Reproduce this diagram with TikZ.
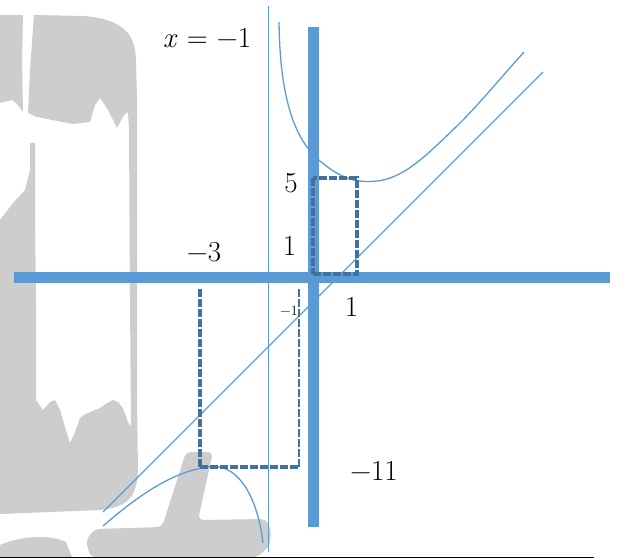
\documentclass[tikz,border=0pt]{standalone}
\definecolor{axblue}{RGB}{91,155,213}
\definecolor{dashblue}{RGB}{65,113,156}
\definecolor{smudge}{RGB}{205,205,205}

\begin{document}
\begin{tikzpicture}[x=1pt,y=-1pt,
  axisln/.style={axblue,line width=11pt},
  crv/.style={axblue,line width=1.3pt},
  guide/.style={dashblue,line width=3.2pt,dash pattern=on 8pt off 2pt},
  lbl/.style={inner sep=0pt,font=\fontsize{29}{34}\selectfont},
  lblsm/.style={inner sep=0pt,font=\fontsize{14}{16}\selectfont}]
  \useasboundingbox (0,0) rectangle (624,559);
  % grey smudge behind the plot
  \fill[smudge] (0,15) -- (23,15) -- (22,60) -- (23,112) -- (17,104) -- (12,100) -- (0,103) -- cycle;
  \fill[smudge] (34,15) -- (85,16) .. controls (125,20) and (135,35) .. (136,60)
    -- (137,100) -- (137,400) -- (138,470) .. controls (137,500) and (125,507) .. (100,510)
    -- (0,514) -- (0,220) -- (13,203) -- (25,190) -- (30,170) -- (30,143) -- (35,143)
    -- (35,215) -- (36,300) -- (36,400) -- (43,410) -- (50,402) -- (55,400) -- (60,410)
    -- (65,427) -- (70,443) -- (75,432) -- (80,418) -- (84,415) -- (88,413) -- (100,408)
    -- (107,403) -- (113,400) -- (118,402) -- (123,408) -- (128,422) -- (131,427)
    -- (130,300) -- (129,130) -- (128,112) -- (124,115) -- (117,128) -- (108,110)
    -- (100,98) -- (95,105) -- (90,122) -- (73,124) -- (37,117) -- (28,113) -- (30,70) -- cycle;
  \fill[smudge,rounded corners=5pt] (90,557) -- (86,540) -- (95,529) -- (162,527) -- (186,452)
    -- (213,452) -- (198,520) -- (266,519) -- (271,530) -- (270,545) -- (258,557) -- cycle;
  \fill[smudge] (0,545) .. controls (20,536) and (50,534) .. (66,542) -- (72,557) -- (0,557) -- cycle;
  \draw[black,line width=1.5pt] (0,557.5) -- (594,557.5);
  % axes
  \draw[axisln] (14,277) -- (610,277);
  \draw[axisln] (313.3,26.7) -- (313.3,526.7);
  % asymptotes and graph
  \draw[crv,line width=1pt] (268.5,6) -- (268.5,552);
  \draw[crv] (103,512) -- (543,72);
  \draw[crv] (279,22) .. controls (280,100) and (295,140) .. (320,161)
    .. controls (340,178) and (355,182) .. (370,181.5)
    .. controls (400,181) and (420,162) .. (460,123)
    .. controls (480,103) and (505,73) .. (524,52);
  \draw[crv] (103,526) .. controls (140,494) and (175,470) .. (212,466.5)
    .. controls (240,465) and (258,500) .. (263,543);
  % dashed boxes
  \draw[guide] (313,274) -- (357,274) -- (357,178) -- (313,178);
  \draw[guide,line width=4pt] (313,178) -- (313,274);
  \draw[guide,line width=4.5pt] (200,289) -- (200,467);
  \draw[guide,line width=3.5pt] (200,467) -- (299,467);
  \draw[guide,line width=2.3pt] (299,467) -- (299,289);
  % labels
  \node[lbl] (asym) at (207,38) {\textit{x}\hspace{0.32em}=\hspace{0.32em}−1};
  \node[lbl] (yfive) at (291,183.5) {5};
  \node[lbl] (yone) at (289.5,246) {1};
  \node[lbl] (xmthree) at (204,252.5) {−3};
  \node[lblsm] (ymone) at (289,311) {−1};
  \node[lbl] (xone) at (351.5,306.5) {1};
  \node[lbl] (ymeleven) at (374,470.5) {−11};
\end{tikzpicture}
\end{document}
